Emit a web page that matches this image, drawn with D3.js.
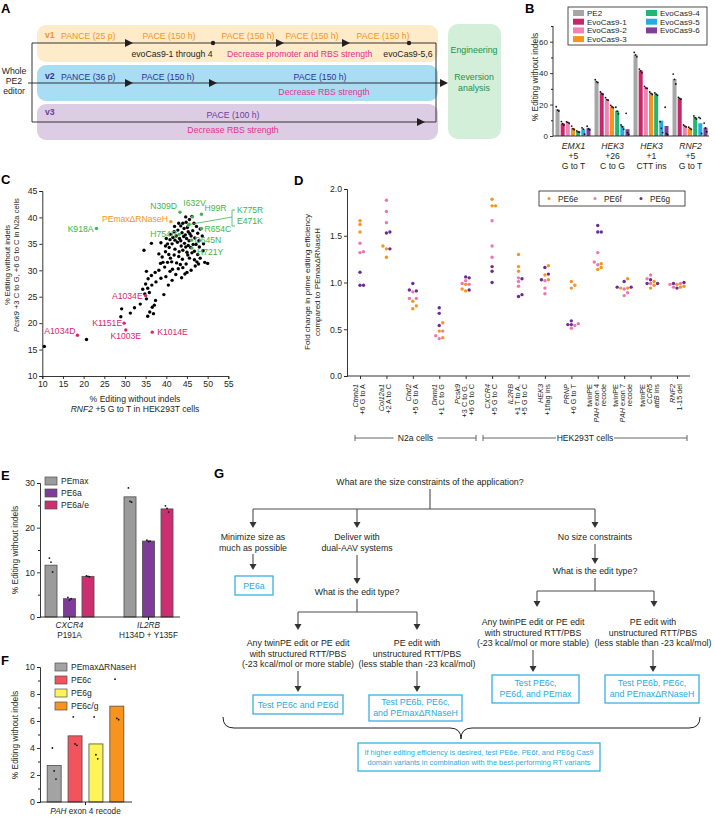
<!DOCTYPE html>
<html>
<head>
<meta charset="utf-8">
<title>PE6 figure</title>
<script src="https://d3js.org/d3.v7.min.js"></script>
<style>
body { margin: 0; background: #ffffff; }
svg { display: block; font-family: "Liberation Sans", Arial, Helvetica, sans-serif; }
</style>
</head>
<body>
<svg width="715" height="818"></svg>
<script>
// ---------- data: panel B (evoCas9 variants)
var bSites = ["EMX1", "HEK3 +26", "HEK3 +1", "RNF2"];
var bSiteLabels = [["_EMX1_", "+5", "G to T"], ["_HEK3_", "+26", "C to G"], ["_HEK3_", "+1", "CTT ins"], ["_RNF2_", "+5", "G to T"]];
var bEditors = ["PE2", "EvoCas9-1", "EvoCas9-2", "EvoCas9-3", "EvoCas9-4", "EvoCas9-5", "EvoCas9-6"];
var bMeans = [
  [17.0, 8.0, 8.6, 5.0, 2.8, 4.3, 4.9],
  [34.7, 27.2, 23.4, 18.7, 16.0, 6.4, 4.3],
  [51.7, 41.7, 30.9, 27.2, 26.6, 9.8, 6.4],
  [36.2, 24.0, 6.4, 4.9, 12.0, 8.1, 5.3]
];
var bReps = [
  [[18.6, 16.5, 15.9], [9.2, 7.8, 7.0], [9.0, 8.7, 8.1], [6.3, 4.6, 4.0], [3.2, 2.6, 2.5], [5.2, 4.4, 1.1], [6.2, 4.6, 3.9]],
  [[35.8, 34.6, 34.0], [28.0, 27.1, 26.5], [24.4, 23.2, 22.8], [19.5, 18.6, 18.0], [18.3, 15.8, 14.1], [7.0, 5.9, 4.3], [14.4, 2.1, 1.0]],
  [[53.2, 51.6, 50.4], [42.6, 41.5, 40.2], [31.6, 30.6, 30.3], [28.0, 27.1, 26.4], [27.4, 26.6, 25.9], [9.1, 4.9, 2.2], [18.3, 1.5, 0.8]],
  [[39.4, 36.0, 33.1], [24.6, 24.0, 23.4], [7.0, 6.3, 5.8], [5.6, 4.9, 4.2], [12.8, 11.6, 10.8], [11.8, 11.2, 1.6], [8.2, 5.1, 2.7]]
];

// ---------- data: panel C (scatter)
var cBlack = [
  [10.5, 15.6], [20.7, 16.9], [29.0, 21.2], [29.2, 22.7], [31.3, 21.9], [32.3, 22.9], [33.7, 23.6], [35.5, 21.3],
  [36.0, 22.1], [36.6, 23.0], [37.1, 23.4], [36.9, 21.8], [35.2, 24.6], [37.4, 24.3], [39.4, 25.4], [34.8, 25.5],
  [35.9, 25.8], [34.3, 26.4], [35.5, 26.6], [35.0, 27.4], [36.5, 27.2], [35.6, 28.4], [35.2, 29.8], [36.4, 29.0],
  [37.5, 27.8], [37.3, 29.6], [38.2, 30.0], [38.7, 28.5], [39.9, 28.8], [40.5, 27.2], [41.4, 28.1], [42.3, 29.2],
  [43.7, 28.6], [44.5, 29.3], [46.0, 30.0], [40.9, 29.8], [39.6, 30.6], [38.6, 31.3], [39.2, 31.5], [40.3, 31.5],
  [41.5, 30.2], [42.9, 30.3], [44.0, 30.5], [47.0, 30.8], [47.4, 31.6], [49.3, 31.5], [48.2, 32.3], [46.8, 32.0],
  [45.6, 32.3], [44.8, 31.2], [43.9, 32.1], [42.5, 31.4], [41.3, 31.6], [43.4, 31.1], [41.0, 32.3], [40.6, 33.0],
  [41.9, 32.9], [43.0, 32.6], [45.2, 32.9], [46.2, 33.3], [47.6, 33.0], [48.9, 33.7], [46.8, 33.6], [45.0, 33.4],
  [44.0, 33.8], [43.1, 33.5], [42.1, 34.0], [40.7, 34.3], [39.8, 34.6], [39.8, 33.5], [38.2, 33.1], [39.0, 32.5],
  [34.6, 33.8], [36.4, 35.1], [38.7, 35.2], [40.0, 36.0], [40.3, 35.0], [41.4, 35.0], [42.7, 35.3], [43.6, 34.6],
  [44.4, 35.1], [44.7, 34.4], [45.3, 34.7], [45.9, 34.3], [46.5, 34.9], [47.2, 34.9], [48.0, 34.4], [49.0, 35.0],
  [47.9, 35.6], [46.9, 36.1], [46.0, 36.5], [45.5, 35.6], [44.9, 36.0], [43.5, 35.6], [43.2, 36.0], [42.1, 35.7],
  [40.9, 35.8], [41.6, 36.2], [42.4, 36.5], [41.0, 36.8], [43.8, 37.1], [44.2, 36.4], [44.6, 36.7], [45.7, 36.9],
  [46.4, 37.5], [47.6, 37.0], [48.7, 36.5], [48.2, 37.8], [47.3, 38.3], [46.7, 38.9], [45.3, 37.3], [45.1, 38.1],
  [44.3, 37.9], [42.8, 37.6], [41.9, 37.3], [42.0, 38.3], [43.5, 38.4], [43.0, 38.9], [44.0, 38.9], [44.8, 39.1],
  [45.6, 39.6], [46.2, 40.2], [44.7, 40.1], [47.8, 31.2], [50.0, 31.3], [45.0, 29.6]
];
var cNames = ["N309D", "I632V", "H99R", "K775R", "E471K", "R654C", "K918A", "H754R", "D645N", "H721Y", "PEmax\u0394RNaseH", "A1034E", "K1151E", "K1003E", "K1014E", "A1034D"];
var cX = [43.3, 46.3, 48.5, 45.3, 45.5, 48.5, 23.1, 43.1, 46.1, 46.2, 41.1, 35.0, 29.8, 30.2, 36.6, 18.5];
var cY = [41.0, 40.1, 40.6, 38.5, 38.7, 37.9, 37.9, 36.8, 35.7, 34.2, 39.2, 25.2, 20.0, 18.7, 18.3, 17.7];
var cGroup = ["up", "up", "up", "up", "up", "up", "up", "up", "up", "up", "ref", "down", "down", "down", "down", "down"];

// ---------- data: panel D (fold change)
var dCats = ["Ctnnb1", "Col12a1", "Chd2", "Dnmt1", "Pcsk9", "CXCR4", "IL2RB", "HEK3", "PRNP", "PAH ex4", "PAH ex7", "CCR5", "RNF2"];
var dLabels = [["_Ctnnb1_", "+6 G to A"], ["_Col12a1_", "+2 A to C"], ["_Chd2_", "+5 G to A"], ["_Dnmt1_", "+1 C to G"],
  ["_Pcsk9_", "+3 C to G,", "+6 G to C"], ["_CXCR4_", "+5 G to C"], ["_IL2RB_", "+1 T to A,", "+5 G to C"], ["_HEK3_", "+1flag ins"],
  ["_PRNP_", "+6 G to T"], ["twinPE", "_PAH_ exon 4", "recode"], ["twinPE", "_PAH_ exon 7", "recode"], ["twinPE", "_CCR5_", "_attB_ ins"], ["_RNF2_", "1-15 del"]];
var dSeries = ["PE6e", "PE6f", "PE6g"];
var dPE6e = [[1.66, 1.54, 1.62], [1.39, 1.36, 1.27], [0.72, 0.80, 0.75], [0.48, 0.57, 0.41], [0.91, 0.93, 0.98], [1.89, 1.82, 1.82], [1.30, 1.17, 1.12],
  [1.03, 1.08, 1.18], [1.01, 0.97, 0.94], [1.20, 1.14, 1.16], [1.04, 0.94, 0.94], [1.01, 0.97, 0.94], [0.98, 0.96, 0.95]];
var dPE6f = [[1.33, 1.42, 1.32], [1.88, 1.76, 1.64], [0.83, 0.90, 0.83], [0.40, 0.43, 0.48], [0.99, 0.98, 1.02], [1.66, 1.39, 1.27], [1.05, 1.01, 0.96],
  [1.02, 0.94, 0.88], [0.56, 0.51, 0.54], [1.32, 1.22, 1.19], [0.93, 0.89, 0.86], [1.08, 1.04, 0.99], [0.99, 0.95, 0.98]];
var dPE6g = [[1.11, 0.97, 0.97], [1.54, 1.53, 1.36], [0.91, 0.92, 0.99], [0.73, 0.67, 0.54], [1.05, 1.06, 0.92], [1.17, 1.12, 1.00], [1.04, 0.85, 0.87],
  [1.16, 1.03, 1.09], [0.55, 0.59, 0.55], [1.61, 1.54, 1.54], [1.01, 0.95, 0.95], [1.03, 0.99, 0.99], [1.00, 0.99, 0.94]];

// ---------- data: panel E
var eSites = ["CXCR4", "IL2RB"];
var eSiteLabels = [["_CXCR4_", "P191A"], ["_IL2RB_", "H134D + Y135F"]];
var eEditors = ["PEmax", "PE6a", "PE6a/e"];
var eMeans = [[11.6, 4.1, 9.1], [26.9, 17.0, 24.2]];
var eReps = [[[13.2, 12.3, 10.1], [4.4, 3.8, 4.1], [9.2, 9.1, 9.0]], [[28.9, 25.9, 25.7], [17.2, 16.9, 17.0], [24.9, 24.3, 23.5]]];

// ---------- data: panel F
var fEditors = ["PEmax\u0394RNaseH", "PE6c", "PE6g", "PE6c/g"];
var fMeans = [2.7, 4.9, 4.3, 7.1];
var fReps = [[4.0, 2.3, 1.7], [6.3, 4.3, 4.2], [6.3, 3.5, 3.2], [9.1, 6.2, 6.1]];

// ---------- helpers
var svg = d3.select("svg");
var INK = "#231f20";

function rich(t, str) {
  str.split("_").forEach(function (part, i) {
    if (part === "") return;
    t.append("tspan").attr("font-style", i % 2 ? "italic" : "normal").text(part);
  });
  return t;
}

function txt(g, x, y, str, size, color, anchor, weight) {
  var t = g.append("text").attr("x", x).attr("y", y)
    .attr("font-size", size).attr("fill", color || INK)
    .attr("text-anchor", anchor || "start");
  if (weight) t.attr("font-weight", weight);
  return rich(t, str);
}

function tri(g, x, y, dir, len, half, color) {
  var p;
  if (dir === "right") p = [[x, y], [x - len, y - half], [x - len, y + half]];
  else p = [[x, y], [x - half, y - len], [x + half, y - len]];
  g.append("path").attr("d", "M" + p.map(function (q) { return q.join(","); }).join("L") + "Z").attr("fill", color || INK);
}

function styleAxis(g, fs) {
  g.selectAll("path, line").attr("stroke", INK).attr("stroke-width", 0.9);
  g.selectAll("text").attr("font-size", fs).attr("fill", INK);
  g.attr("font-family", null).attr("font-size", null);
}

function swarm(vals, r) {
  // spreads dots sideways so they do not overlap
  var placed = [];
  var step = 2 * r + 0.1;
  vals.slice().sort(function (a, b) { return b.py - a.py; }).forEach(function (d) {
    var cands = [0];
    for (var i = 1; i < 8; i++) { cands.push(i * step, -i * step); }
    for (var k = 0; k < cands.length; k++) {
      var ok = placed.every(function (p) {
        var dx = p.dx - cands[k], dy = p.py - d.py;
        return dx * dx + dy * dy >= step * step * 0.95;
      });
      if (ok) { d.dx = cands[k]; break; }
    }
    placed.push(d);
  });
  return vals;
}

function letter(x, y, s) {
  svg.append("text").attr("x", x).attr("y", y).attr("font-size", 13).attr("font-weight", "bold").attr("fill", "#000").text(s);
}

// =============== Panel A: evolution scheme
var gA = svg.append("g");
letter(1, 13, "A");
var cOrange = "#f7941d", cMag = "#e8318e", cNavy = "#2e3192", cPurp = "#6a3d9a", cGreen = "#21924a";
var FA = 8.7;
gA.append("rect").attr("x", 37).attr("y", 25).attr("width", 401).attr("height", 37).attr("rx", 9).attr("fill", "#fdebc9");
gA.append("rect").attr("x", 37).attr("y", 65).attr("width", 401).attr("height", 36).attr("rx", 9).attr("fill", "#a9ddf3");
gA.append("rect").attr("x", 37).attr("y", 104).attr("width", 401).attr("height", 36).attr("rx", 9).attr("fill", "#dccde5");
gA.append("rect").attr("x", 448).attr("y", 24).attr("width", 53).attr("height", 115).attr("rx", 10).attr("fill", "#d3eed9");

// lines
gA.append("path").attr("d", "M32,43 L436,43 L436,122 L32,122 Z").attr("fill", "none").attr("stroke", INK).attr("stroke-width", 0.9);
gA.append("line").attr("x1", 28).attr("x2", 442).attr("y1", 83).attr("y2", 83).attr("stroke", INK).attr("stroke-width", 0.9);
[133, 284, 350].forEach(function (x) { tri(gA, x, 43, "right", 8, 4); });
[133, 217].forEach(function (x) { tri(gA, x, 83, "right", 8, 4); });
tri(gA, 448, 83, "right", 8, 4);
tri(gA, 425, 122, "right", 8, 4);
[213, 409].forEach(function (x) { gA.append("circle").attr("cx", x).attr("cy", 43).attr("r", 2.2).attr("fill", INK); });

txt(gA, 14, 74, "Whole", FA, INK, "middle");
txt(gA, 14, 84, "PE2", FA, INK, "middle");
txt(gA, 14, 94, "editor", FA, INK, "middle");

txt(gA, 45, 38, "v1", FA, cOrange, "start", "bold");
txt(gA, 61, 39, "PANCE (25 p)", FA, cOrange);
[169, 248, 312, 383].forEach(function (x) { txt(gA, x, 39, "PACE (150 h)", FA, cOrange, "middle"); });
txt(gA, 172, 57, "evoCas9-1 through 4", FA, INK, "middle");
txt(gA, 227, 57, "Decrease promoter and RBS strength", FA, cMag);
txt(gA, 408, 57, "evoCas9-5,6", FA, INK, "middle");

txt(gA, 45, 79, "v2", FA, cNavy, "start", "bold");
txt(gA, 61, 80, "PANCE (36 p)", FA, cNavy);
txt(gA, 168, 80, "PACE (150 h)", FA, cNavy, "middle");
txt(gA, 320, 80, "PACE (150 h)", FA, cNavy, "middle");
txt(gA, 324, 95, "Decrease RBS strength", FA, cMag, "middle");

txt(gA, 45, 115, "v3", FA, cPurp, "start", "bold");
txt(gA, 233, 118, "PACE (100 h)", FA, cPurp, "middle");
txt(gA, 233, 133, "Decrease RBS strength", FA, cMag, "middle");

txt(gA, 474, 53, "Engineering", 8.8, cGreen, "middle");
txt(gA, 474, 80, "Reversion", 8.8, cGreen, "middle");
txt(gA, 474, 91, "analysis", 8.8, cGreen, "middle");

// =============== Panel B: grouped bars
var gB = svg.append("g");
letter(525, 13, "B");
var bColor = d3.scaleOrdinal().domain(bEditors).range(["#a6a6a6", "#c8266b", "#f282b4", "#f7941d", "#22b573", "#29abe2", "#7d3f98"]);
var bY = d3.scaleLinear().domain([0, 70]).range([136, 26]);
var bX = d3.scaleBand().domain(bSites).range([554, 710]).padding(0);
var bX2 = d3.scaleBand().domain(bEditors).range([1, bX.bandwidth() - 2]).paddingInner(0.22).paddingOuter(0.1);

bSites.forEach(function (s, i) {
  bEditors.forEach(function (e, j) {
    var x = bX(s) + bX2(e);
    gB.append("rect").attr("x", x).attr("y", bY(bMeans[i][j])).attr("width", bX2.bandwidth())
      .attr("height", bY(0) - bY(bMeans[i][j])).attr("fill", bColor(e));
    bReps[i][j].forEach(function (v, k) {
      gB.append("circle").attr("cx", x + bX2.bandwidth() / 2 + (k - 1) * 1.3).attr("cy", bY(v)).attr("r", 0.9).attr("fill", "#111");
    });
  });
});
var bAxis = gB.append("g").attr("transform", "translate(553,0)").call(d3.axisLeft(bY).tickValues([0, 20, 40, 60]).tickSize(3).tickPadding(2));
styleAxis(bAxis, 8);
bAxis.select(".domain").attr("d", "M0," + bY(70) + "V" + bY(0));
gB.append("g").attr("transform", "translate(553,0)").call(d3.axisLeft(bY).tickValues([10, 30, 50, 70]).tickSize(2).tickFormat(""))
  .call(function (g) { g.select(".domain").remove(); g.selectAll("line").attr("stroke", INK); });
gB.append("line").attr("x1", 553).attr("x2", 709).attr("y1", bY(0)).attr("y2", bY(0)).attr("stroke", INK).attr("stroke-width", 0.9);
bSites.forEach(function (s, i) {
  var cx = bX(s) + bX.bandwidth() / 2;
  bSiteLabels[i].forEach(function (l, k) { txt(gB, cx, 149 + k * 10, l, 8.6, INK, "middle"); });
});
gB.append("text").attr("transform", "translate(538,77) rotate(-90)").attr("text-anchor", "middle")
  .attr("font-size", 8.4).attr("fill", INK).text("% Editing without indels");
// legend
gB.append("rect").attr("x", 568).attr("y", 7).attr("width", 139).attr("height", 38).attr("fill", "#fff").attr("stroke", INK).attr("stroke-width", 0.8);
bEditors.forEach(function (e, i) {
  var col = i < 4 ? 0 : 1, row = i < 4 ? i : i - 4;
  var x = col ? 646 : 573, y = 13 + row * 8.7;
  gB.append("rect").attr("x", x).attr("y", y - 3).attr("width", 11).attr("height", 6).attr("fill", bColor(e));
  txt(gB, x + 14, y + 2.8, e, 8, INK);
});

// =============== Panel C: scatter
var gC = svg.append("g");
letter(1, 184, "C");
var cXs = d3.scaleLinear().domain([10, 55]).range([42.3, 228.3]);
var cYs = d3.scaleLinear().domain([10, 45]).range([376, 191]);
var cxAxis = gC.append("g").attr("transform", "translate(0,376)").call(d3.axisBottom(cXs).ticks(10).tickSize(3).tickPadding(2));
styleAxis(cxAxis, 8.7);
var cyAxis = gC.append("g").attr("transform", "translate(42.3,0)").call(d3.axisLeft(cYs).ticks(8).tickSize(3).tickPadding(2));
styleAxis(cyAxis, 8.7);
cBlack.forEach(function (p) {
  gC.append("circle").attr("cx", cXs(p[0])).attr("cy", cYs(p[1])).attr("r", 1.7).attr("fill", "#000");
});
var cColor = d3.scaleOrdinal().domain(["up", "ref", "down"]).range(["#3db54a", "#f7941d", "#d9256f"]);
var cLabelPos = {
  "N309D": [-3, -3, "end"], "I632V": [-9, -11, "start"], "H99R": [3, -3, "start"],
  "R654C": [3, 3, "start"], "K918A": [-3, 3, "end"], "H754R": [-2, 3, "end"], "D645N": [3, 3, "start"],
  "H721Y": [5, 7, "start"], "PEmax\u0394RNaseH": [-3, 0, "end"], "A1034E": [-3, 3, "end"], "K1151E": [-2, 3, "end"],
  "K1003E": [0, 9, "middle"], "K1014E": [5, 3, "start"], "A1034D": [-2, -1, "end"]
};
cNames.forEach(function (n, i) {
  var px = cXs(cX[i]), py = cYs(cY[i]), col = cColor(cGroup[i]);
  gC.append("circle").attr("cx", px).attr("cy", py).attr("r", 1.7).attr("fill", col);
  var lp = cLabelPos[n];
  if (lp) txt(gC, px + lp[0], py + lp[1], n, 8.6, col, lp[2]);
});
// bracket for the two overlapping mutants
var kIdx = cNames.indexOf("K775R");
gC.append("path").attr("d", "M" + (cXs(cX[kIdx]) + 2) + "," + (cYs(cY[kIdx]) - 1) + "L232,217 M235,210 H232 V226 H235")
  .attr("fill", "none").attr("stroke", cColor("up")).attr("stroke-width", 0.8);
txt(gC, 237, 213, "K775R", 8.6, cColor("up"));
txt(gC, 237, 224, "E471K", 8.6, cColor("up"));
txt(gC, 135, 402, "% Editing without indels", 8.6, INK, "middle");
txt(gC, 135, 412, "_RNF2_ +5 G to T in HEK293T cells", 8.6, INK, "middle");
var cyl = gC.append("g").attr("transform", "translate(10,265) rotate(-90)");
txt(cyl, 0, 0, "% Editing without indels", 7.6, INK, "middle");
txt(cyl, 0, 8.5, "_Pcsk9_ +3 C to G, +6 G to C in N2a cells", 7.6, INK, "middle");

// =============== Panel D: fold change dot plot
var gD = svg.append("g");
letter(294, 185, "D");
var dX = d3.scalePoint().domain(dCats).range([360, 677]);
var dY = d3.scaleLinear().domain([0, 2]).range([376, 189]);
var dColor = d3.scaleOrdinal().domain(dSeries).range(["#f7941d", "#f174b3", "#6b2c91"]);
var dyAxis = gD.append("g").attr("transform", "translate(347,0)").call(d3.axisLeft(dY).tickValues([0, 0.5, 1, 1.5, 2]).tickFormat(d3.format(".1f")).tickSize(3).tickPadding(2));
styleAxis(dyAxis, 8.6);
var dxAxis = gD.append("g").attr("transform", "translate(0,376)").call(d3.axisBottom(dX).tickSize(3).tickFormat(""));
styleAxis(dxAxis, 7.5);
dxAxis.select(".domain").attr("d", "M347,0H690");
var dAll = [dPE6e, dPE6f, dPE6g];
dCats.forEach(function (c, i) {
  var pts = [];
  dSeries.forEach(function (s, j) {
    dAll[j][i].forEach(function (v) { pts.push({ s: s, v: v, py: dY(v) }); });
  });
  swarm(pts, 1.7).forEach(function (p) {
    gD.append("circle").attr("cx", dX(c) + p.dx).attr("cy", p.py).attr("r", 1.7).attr("fill", dColor(p.s));
  });
  var n = dLabels[i].length;
  dLabels[i].forEach(function (l, k) {
    var bx = dX(c) + (k - (n - 1) / 2) * 7 + 1.2;
    var t = gD.append("text").attr("transform", "translate(" + bx + ",384) rotate(-90)")
      .attr("text-anchor", "end").attr("font-size", 7.3).attr("fill", INK);
    rich(t, l);
  });
});
var dyl = gD.append("g").attr("transform", "translate(310,282) rotate(-90)");
txt(dyl, 0, 0, "Fold change in prime editing efficiency", 8, INK, "middle");
txt(dyl, 0, 10, "compared to PEmax\u0394RNaseH", 8, INK, "middle");
// cell type brackets
[[355, 476, "N2a cells"], [483, 687, "HEK293T cells"]].forEach(function (b) {
  var mid = (b[0] + b[1]) / 2, hw = b[2] === "N2a cells" ? 22 : 29;
  gD.append("path").attr("d", "M" + b[0] + ",435V441M" + b[0] + ",438H" + (mid - hw) + "M" + (mid + hw) + ",438H" + b[1] + "M" + b[1] + ",435V441")
    .attr("stroke", "#555").attr("stroke-width", 0.9).attr("fill", "none");
  txt(gD, mid, 441, b[2], 8.6, INK, "middle");
});
// legend
gD.append("rect").attr("x", 539).attr("y", 191).attr("width", 146).attr("height", 15).attr("fill", "#fff").attr("stroke", INK).attr("stroke-width", 0.8);
dSeries.forEach(function (s, i) {
  var x = 549 + i * 46;
  gD.append("circle").attr("cx", x).attr("cy", 198.5).attr("r", 1.5).attr("fill", dColor(s));
  txt(gD, x + 9, 201.5, s, 8.2, INK);
});

// =============== Panel E: PE6a bars
var gE = svg.append("g");
letter(1, 480, "E");
var eColor = d3.scaleOrdinal().domain(eEditors).range(["#9b9b9b", "#7e3c98", "#cc2f70"]);
var eY = d3.scaleLinear().domain([0, 30]).range([617, 483]);
var eX = d3.scaleBand().domain(eSites).range([30, 188]).padding(0);
var eX2 = d3.scaleBand().domain(eEditors).range([0, eX.bandwidth()]).paddingInner(0.35).paddingOuter(0.81);
eSites.forEach(function (s, i) {
  eEditors.forEach(function (e, j) {
    var x = eX(s) + eX2(e);
    gE.append("rect").attr("x", x).attr("y", eY(eMeans[i][j])).attr("width", eX2.bandwidth()).attr("height", eY(0) - eY(eMeans[i][j]))
      .attr("fill", eColor(e)).attr("stroke", "#4d4d4d").attr("stroke-width", 0.8);
    eReps[i][j].forEach(function (v, k) {
      gE.append("circle").attr("cx", x + eX2.bandwidth() / 2 + (k - 1) * 1.6).attr("cy", eY(v)).attr("r", 0.9).attr("fill", "#111");
    });
  });
  var cx = eX(s) + eX.bandwidth() / 2;
  gE.append("line").attr("x1", cx).attr("x2", cx).attr("y1", 617).attr("y2", 620).attr("stroke", INK);
  eSiteLabels[i].forEach(function (l, k) { txt(gE, cx, 628 + k * 10, l, 8.2, INK, "middle"); });
});
var eAxis = gE.append("g").attr("transform", "translate(40,0)").call(d3.axisLeft(eY).tickValues([0, 10, 20, 30]).tickSize(3).tickPadding(2));
styleAxis(eAxis, 8.8);
gE.append("g").attr("transform", "translate(40,0)").call(d3.axisLeft(eY).tickValues([5, 15, 25]).tickSize(2).tickFormat(""))
  .call(function (g) { g.select(".domain").remove(); g.selectAll("line").attr("stroke", INK); });
gE.append("line").attr("x1", 40).attr("x2", 180).attr("y1", 617).attr("y2", 617).attr("stroke", INK).attr("stroke-width", 0.9);
gE.append("text").attr("transform", "translate(17.5,550) rotate(-90)").attr("text-anchor", "middle")
  .attr("font-size", 8.4).attr("fill", INK).text("% Editing without indels");
eEditors.forEach(function (e, i) {
  var y = 481 + i * 12;
  gE.append("rect").attr("x", 45).attr("y", y - 4).attr("width", 12).attr("height", 8).attr("fill", eColor(e)).attr("stroke", "#4d4d4d").attr("stroke-width", 0.7);
  txt(gE, 61, y + 3, e, 8.5, INK);
});

// =============== Panel F: PAH exon 4 bars
var gF = svg.append("g");
letter(1, 665, "F");
var fColor = d3.scaleOrdinal().domain(fEditors).range(["#a3a3a3", "#f1545c", "#fff35a", "#f7941d"]);
var fY = d3.scaleLinear().domain([0, 10]).range([802, 667]);
var fX = d3.scaleBand().domain(fEditors).range([43, 128]).paddingInner(0.33).paddingOuter(0.2);
fEditors.forEach(function (e, i) {
  var x = fX(e);
  gF.append("rect").attr("x", x).attr("y", fY(fMeans[i])).attr("width", fX.bandwidth()).attr("height", fY(0) - fY(fMeans[i]))
    .attr("fill", fColor(e)).attr("stroke", "#4d4d4d").attr("stroke-width", 0.8);
  fReps[i].forEach(function (v, k) {
    gF.append("circle").attr("cx", x + fX.bandwidth() / 2 + (k - 1) * 1.8).attr("cy", fY(v)).attr("r", 0.9).attr("fill", "#111");
  });
});
var fAxis = gF.append("g").attr("transform", "translate(40,0)").call(d3.axisLeft(fY).tickValues([0, 2, 4, 6, 8, 10]).tickSize(3).tickPadding(2));
styleAxis(fAxis, 8.8);
gF.append("g").attr("transform", "translate(40,0)").call(d3.axisLeft(fY).tickValues([1, 3, 5, 7, 9]).tickSize(2).tickFormat(""))
  .call(function (g) { g.select(".domain").remove(); g.selectAll("line").attr("stroke", INK); });
gF.append("line").attr("x1", 40).attr("x2", 132).attr("y1", 802).attr("y2", 802).attr("stroke", INK).attr("stroke-width", 0.9);
gF.append("line").attr("x1", 85.5).attr("x2", 85.5).attr("y1", 802).attr("y2", 805).attr("stroke", INK);
txt(gF, 85.5, 814, "_PAH_ exon 4 recode", 8.2, INK, "middle");
gF.append("text").attr("transform", "translate(17.5,735) rotate(-90)").attr("text-anchor", "middle")
  .attr("font-size", 8.4).attr("fill", INK).text("% Editing without indels");
fEditors.forEach(function (e, i) {
  var y = 667 + i * 13;
  gF.append("rect").attr("x", 55).attr("y", y - 4).attr("width", 12).attr("height", 8).attr("fill", fColor(e)).attr("stroke", "#4d4d4d").attr("stroke-width", 0.7);
  txt(gF, 71, y + 3, e, 8.5, INK);
});

// =============== Panel G: decision tree
var gG = svg.append("g");
letter(214, 478, "G");
var LN = "#4d4d4d", BL = "#29abe2", FS = 8.8;
function seg(d) { gG.append("path").attr("d", d).attr("fill", "none").attr("stroke", LN).attr("stroke-width", 1.1); }
function down(x, y0, y1) { seg("M" + x + "," + y0 + "V" + (y1 - 5)); tri(gG, x, y1, "down", 6, 3.5, "#333"); }
function block(x, y, arr, color, fs) { arr.forEach(function (s, i) { txt(gG, x, y + i * 10.5, s, fs || FS, color || INK, "middle"); }); }
function box(x0, y0, x1, y1) {
  gG.append("rect").attr("x", x0).attr("y", y0).attr("width", x1 - x0).attr("height", y1 - y0)
    .attr("fill", "#fff").attr("stroke", BL).attr("stroke-width", 1.2);
}

block(430, 485, ["What are the size constraints of the application?"]);
seg("M430,489V509M253,509H595");
down(253, 509, 528); down(357, 509, 528); down(595, 509, 528);
block(253, 540, ["Minimize size as", "much as possible"]);
block(357, 540, ["Deliver with", "dual-AAV systems"]);
block(595, 540, ["No size constraints"]);
down(253, 554, 570);
box(235, 576, 273, 595); block(254, 589, ["PE6a"], BL);
down(357, 555, 584);
block(357, 595, ["What is the edit type?"]);
down(595, 544, 564);
block(595, 574, ["What is the edit type?"]);
seg("M595,578V591M537,591H654");
down(537, 591, 607); down(654, 591, 607);
seg("M357,599V612M298,612H417");
down(298, 612, 630); down(417, 612, 630);
block(298, 646, ["Any twinPE edit or PE edit", "with structured RTT/PBS", "(-23 kcal/mol or more stable)"]);
block(417, 646, ["PE edit with", "unstructured RTT/PBS", "(less stable than -23 kcal/mol)"]);
block(533, 625, ["Any twinPE edit or PE edit", "with structured RTT/PBS", "(-23 kcal/mol or more stable)"]);
block(653, 625, ["PE edit with", "unstructured RTT/PBS", "(less stable than -23 kcal/mol)"]);
down(298, 671, 692); down(417, 671, 692);
box(253, 695, 343, 714); block(298, 707.5, ["Test PE6c and PE6d"], BL);
box(369, 695, 462, 721); block(415.5, 705, ["Test PE6b, PE6c,", "and PEmax\u0394RNaseH"], BL);
down(533, 650, 672); down(653, 650, 672);
box(492, 675, 579, 703); block(535.5, 686, ["Test PE6c,", "PE6d, and PEmax"], BL);
box(605, 675, 699, 703); block(652, 686, ["Test PE6b, PE6c,", "and PEmax\u0394RNaseH"], BL);
// brace
gG.append("path").attr("d", "M223,717 Q223,728 234,728 L450,728 Q461,728 461,739 Q461,728 472,728 L689,728 Q700,728 700,717")
  .attr("fill", "none").attr("stroke", INK).attr("stroke-width", 1);
box(358, 743, 600, 771);
block(479, 754.5, ["If higher editing efficiency is desired, test PE6e, PE6f, and PE6g Cas9", "domain variants in combination with the best-performing RT variants"], BL, 7.4);
</script>
</body>
</html>
